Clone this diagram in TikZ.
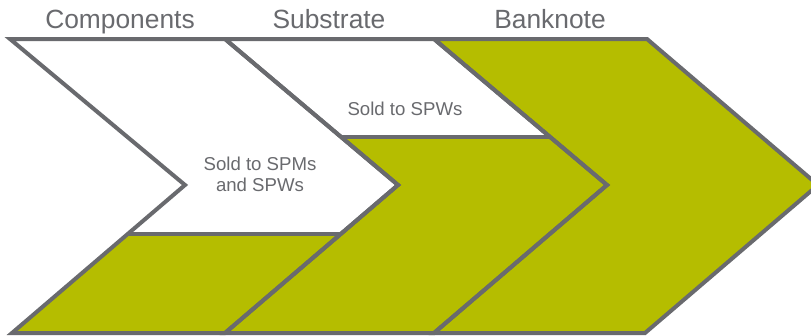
\documentclass[tikz,border=0pt]{standalone}
\usepackage{fontspec}
\setmainfont{Liberation Sans}
\usetikzlibrary{calc}
\definecolor{leafgreen}{RGB}{181,189,0}
\definecolor{slategrey}{RGB}{105,106,110}

\begin{document}
\begin{tikzpicture}[
  x=0.02cm,y=-0.02cm,
  outline/.style={draw=slategrey,line width=0.08cm,line join=miter},
  stage/.style={text=slategrey,font=\fontsize{15}{18}\selectfont,anchor=base},
  note/.style={text=slategrey,font=\fontsize{10.6}{11.9}\selectfont,align=center},
]
\fill[white] (0,0) rectangle (811,335);
\useasboundingbox (0,0) rectangle (811,335);

% Corner points: top row, tips, bottom row
\coordinate (t0) at (10,39);
\coordinate (t1) at (225,39);
\coordinate (t2) at (434,39);
\coordinate (t3) at (647,39);
\coordinate (m0) at (185,185);
\coordinate (m1) at (398,185);
\coordinate (m2) at (607,185);
\coordinate (m3) at (818,185);
\coordinate (b0) at (12,333);
\coordinate (b1) at (225,333);
\coordinate (b2) at (434,333);
\coordinate (b3) at (645,333);

% Divider ends
\coordinate (d1l) at ($(m0)!0.331!(b0)$);
\coordinate (d1r) at ($(m1)!0.331!(b1)$);
\coordinate (d2l) at ($(t1)!0.671!(m1)$);
\coordinate (d2r) at ($(t2)!0.671!(m2)$);

% Green parts
\fill[leafgreen] (d1l) -- (d1r) -- (b1) -- (b0) -- cycle;
\fill[leafgreen] (d2l) -- (d2r) -- (m2) -- (b2) -- (b1) -- (m1) -- cycle;
\fill[leafgreen] (t2) -- (t3) -- (m3) -- (b3) -- (b2) -- (m2) -- cycle;

% Chevron outlines
\draw[outline] (t0) -- (t1) -- (m1) -- (b1) -- (b0) -- (m0) -- cycle;
\draw[outline] (t1) -- (t2) -- (m2) -- (b2) -- (b1) -- (m1) -- cycle;
\draw[outline] (t2) -- (t3) -- (m3) -- (b3) -- (b2) -- (m2) -- cycle;
\draw[outline] (d1l) -- (d1r);
\draw[outline] (d2l) -- (d2r);

% Headings
\node[stage] (comp) at (120,28) {Components};
\node[stage] (subs) at (329,28) {Substrate};
\node[stage] (bank) at (550,28) {Banknote};

% Notes
\node[note] (spw) at (405,109) {Sold to SPWs};
\node[note] (spm) at (260,174) {Sold to SPMs\\and SPWs};

\end{tikzpicture}
\end{document}
